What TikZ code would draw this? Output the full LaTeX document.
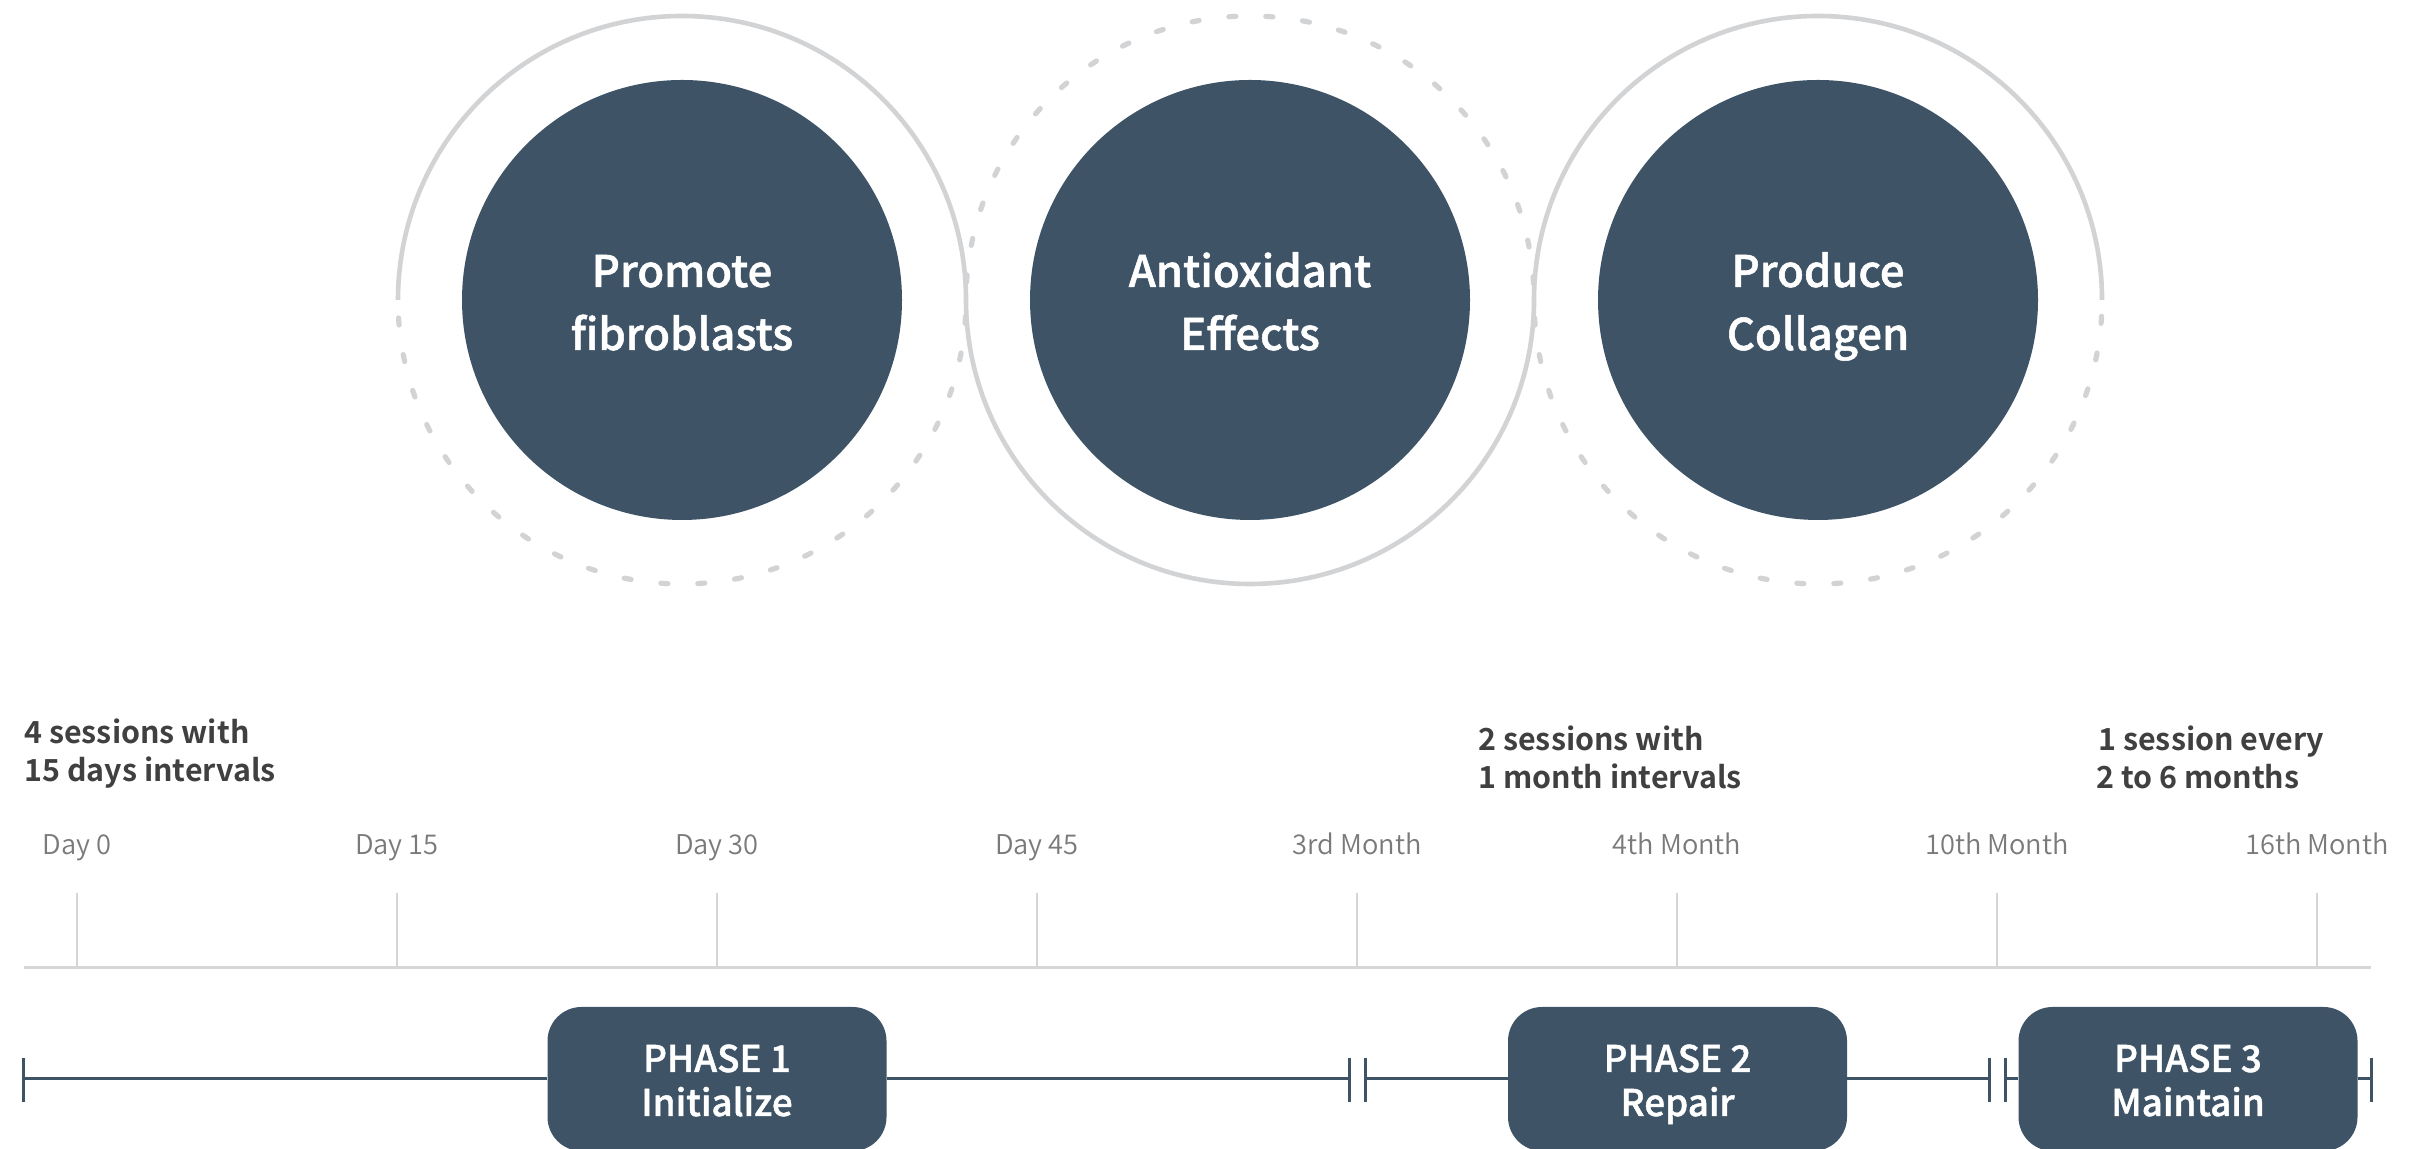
\documentclass[tikz,border=0pt]{standalone}
\usepackage{fontspec}
\setmainfont{Noto Sans CJK KR}
\newfontfamily\medfont[FakeBold=1.2]{Noto Sans CJK KR Medium}
\newfontfamily\sessfont{Noto Sans CJK KR Bold}
\newfontfamily\lightfont{Noto Sans CJK KR DemiLight}
\definecolor{slate}{HTML}{3E5466}
\definecolor{ringgray}{HTML}{D2D3D5}
\definecolor{gridgray}{HTML}{D6D6D6}
\definecolor{daygray}{HTML}{7A7A7A}
\definecolor{sesstext}{HTML}{404040}
\begin{document}
\begin{tikzpicture}[x=0.5pt,y=0.5pt,
  ring/.style={draw=ringgray, line width=2.3pt},
  ringdash/.style={draw=ringgray, line width=2.6pt, line cap=round, dash pattern=on 3.5pt off 15pt, dash phase=9.5pt},
  bigdisc/.style={circle, fill=slate, minimum size=220pt, inner sep=0pt},
  disctext/.style={inner sep=0pt, anchor=base, text=white, font=\medfont\fontsize{21.8}{26}\selectfont},
  gridline/.style={draw=gridgray, line width=1.5pt},
  tickline/.style={draw=gridgray, line width=1pt},
  daylab/.style={inner sep=0pt, anchor=base, text=daygray, font=\lightfont\fontsize{13.6}{16}\selectfont},
  sesslab/.style={inner sep=0pt, anchor=base west, text=sesstext, font=\sessfont\fontsize{15.2}{19}\selectfont},
  tl/.style={draw=slate, line width=1.5pt},
  phasebox/.style={rectangle, rounded corners=17pt, fill=slate, minimum width=169.5pt, minimum height=72pt, inner sep=0pt},
  phasetext/.style={inner sep=0pt, anchor=base, text=white, font=\medfont\fontsize{18.4}{22}\selectfont}
]
\useasboundingbox (0,0) rectangle (2429,1149);
\fill[white] (0,0) rectangle (2429,1149);

% circles
\node[bigdisc] (c1) at (682,849) {};
\node[bigdisc] (c2) at (1250,849) {};
\node[bigdisc] (c3) at (1818,849) {};
\node[disctext] (c1a) at (682,862) {Promote};
\node[disctext] (c1b) at (682,799) {fibroblasts};
\node[disctext] (c2a) at (1250,862) {Antioxidant};
\node[disctext] (c2b) at (1250,799) {Effects};
\node[disctext] (c3a) at (1818,862) {Produce};
\node[disctext] (c3b) at (1818,799) {Collagen};

% rings
\draw[ring] ([xshift=-142pt]c1.center) arc[start angle=180,end angle=0,radius=284]
  arc[start angle=180,end angle=360,radius=284]
  arc[start angle=180,end angle=0,radius=284];
\draw[ringdash] ([xshift=-142pt]c1.center) arc[start angle=180,end angle=360,radius=284];
\draw[ringdash] ([xshift=-142pt]c2.center) arc[start angle=180,end angle=0,radius=284];
\draw[ringdash] ([xshift=-142pt]c3.center) arc[start angle=180,end angle=360,radius=284];

% session texts
\node[sesslab] (s1a) at (24,405) {4 sessions with};
\node[sesslab] (s1b) at (24,367) {15 days intervals};
\node[sesslab] (s2a) at (1478,398) {2 sessions with};
\node[sesslab] (s2b) at (1478,360) {1 month intervals};
\node[sesslab] (s3a) at (2098,398) {1 session every};
\node[sesslab] (s3b) at (2096,360) {2 to 6 months};

% gray axis with ticks
\coordinate (gL) at (24,181);
\coordinate (gR) at (2371,181);
\draw[gridline] (gL) -- (gR);
\foreach \x/\lab/\nm in {77/Day 0/a, 397/Day 15/b, 717/Day 30/c, 1037/Day 45/d, 1357/3rd Month/e, 1677/4th Month/f, 1997/10th Month/g, 2317/16th Month/h}{
  \coordinate (tb\nm) at (\x,181);
  \coordinate (tt\nm) at (\x,256);
  \draw[tickline] (tt\nm) -- (tb\nm);
  \node[daylab] (l\nm) at (\x,294) {\lab};
}

% phase boxes
\node[phasebox] (p1) at (717,70) {};
\node[phasebox] (p2) at (1677.5,70) {};
\node[phasebox] (p3) at (2188,70) {};
\node[phasetext] (p1a) at (717,77) {PHASE 1};
\node[phasetext] (p1b) at (717,33) {Initialize};
\node[phasetext] (p2a) at (1677.5,77) {PHASE 2};
\node[phasetext] (p2b) at (1677.5,33) {Repair};
\node[phasetext] (p3a) at (2188,77) {PHASE 3};
\node[phasetext] (p3b) at (2188,33) {Maintain};

% dark timeline
\foreach \x/\nm in {23/0, 1349/1, 1365/2, 1989/3, 2005/4, 2371/5}{
  \coordinate (b\nm) at (\x,70);
  \coordinate (bt\nm) at (\x,91);
  \coordinate (bb\nm) at (\x,47);
  \draw[tl] (bt\nm) -- (bb\nm);
}
\draw[tl] (b0) -- (p1.west);
\draw[tl] (p1.east) -- (b1);
\draw[tl] (b2) -- (p2.west);
\draw[tl] (p2.east) -- (b3);
\draw[tl] (b4) -- (p3.west);
\draw[tl] (p3.east) -- (b5);
\end{tikzpicture}
\end{document}
